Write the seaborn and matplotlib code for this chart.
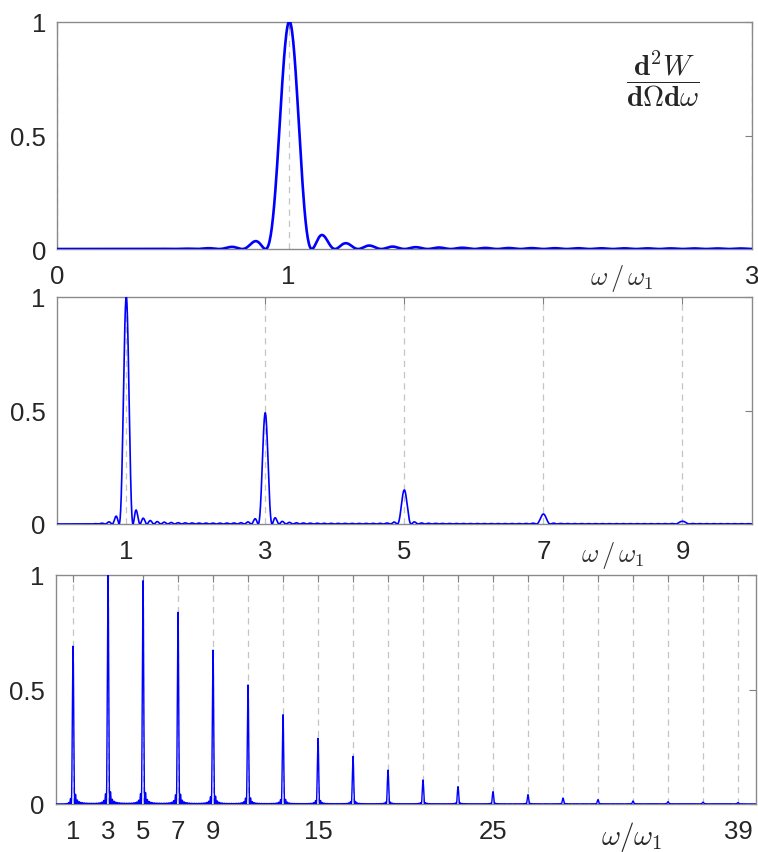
import numpy as np
import pandas as pd
import matplotlib
matplotlib.use("Agg")
import matplotlib.pyplot as plt
import seaborn as sns

# ---------------- data ----------------
top_harmonics = [1]
top_heights = [1.0]

mid_harmonics = [1, 3, 5, 7, 9]
mid_heights = [1.0, 0.49, 0.15, 0.044, 0.012]

bot_harmonics = list(range(1, 40, 2))
bot_heights = [0.687, 1.0, 0.975, 0.837, 0.672, 0.52, 0.39, 0.287, 0.208, 0.148,
               0.105, 0.076, 0.054, 0.041, 0.026, 0.019, 0.013, 0.010, 0.008, 0.006]

n_periods = 10  # line-shape parameter (zeros of each line at n +/- 1/N)

top_xticks = [0, 1, 3]
top_xticklabels = ["0", "1", "3"]
mid_xticks = [1, 3, 5, 7, 9]
mid_xticklabels = ["1", "3", "5", "7", "9"]
bot_xticks = list(range(1, 40, 2))
bot_xticklabels = [str(t) if t in (1, 3, 5, 7, 9, 15, 25, 39) else "" for t in bot_xticks]
yticks = [0, 0.5, 1]
yticklabels = ["0", "0.5", "1"]


def spectrum(w, harmonics, heights, N):
    y = np.zeros_like(w)
    for n, a in zip(harmonics, heights):
        y += a * np.sinc(N * (w - n)) ** 2 * (w / n) ** 2
    return y


sns.set_style("white")
plt.rcParams["font.family"] = ["Liberation Sans", "DejaVu Sans"]
plt.rcParams["mathtext.fontset"] = "cm"

fig = plt.figure(figsize=(7.58, 8.53), dpi=100)
W, H = 758.0, 853.0


def add_axes(l, r, t, b):
    return fig.add_axes([l / W, 1 - b / H, (r - l) / W, (b - t) / H])


ax1 = add_axes(57, 752, 23, 250)
ax2 = add_axes(56.5, 752, 298, 525)
ax3 = add_axes(55.5, 755.5, 576, 805)

panels = [
    (ax1, 3, top_harmonics, top_heights, top_xticks, top_xticklabels, 1.9),
    (ax2, 10, mid_harmonics, mid_heights, mid_xticks, mid_xticklabels, 1.2),
    (ax3, 40, bot_harmonics, bot_heights, bot_xticks, bot_xticklabels, 1.0),
]

for ax, xmax, harm, hts, xt, xtl, lw in panels:
    w = np.linspace(0, xmax, int(xmax * 400) + 1)
    y = spectrum(w, harm, hts, n_periods)
    df = pd.DataFrame({"w": w, "I": y})
    for xg in xt:
        ax.axvline(xg, color="#c4c4c4", lw=0.9, ls=(0, (5, 4)), zorder=0.5)
    sns.lineplot(data=df, x="w", y="I", ax=ax, color="#0000ff", lw=lw, zorder=3)
    ax.set_xlim(0, xmax)
    ax.set_ylim(0, 1)
    ax.set_xticks(xt)
    ax.set_xticklabels(xtl)
    ax.set_yticks(yticks)
    ax.set_yticklabels(yticklabels)
    ax.set_xlabel("")
    ax.set_ylabel("")
    ax.tick_params(axis="both", which="both", direction="in", length=5, width=0.8,
                   color="#808080", labelsize=18.5, labelcolor="#262626",
                   top=True, right=True)
    ax.tick_params(axis="x", pad=11)
    ax.tick_params(axis="y", pad=8)
    for s in ax.spines.values():
        s.set_color("#8a8a8a")
        s.set_linewidth(1.0)
        s.set_zorder(2)

ax1.text(0.872, 0.755,
         r"$\dfrac{\mathbf{d}^2W}{\mathbf{d}\Omega\mathbf{d}\omega}$",
         transform=ax1.transAxes, ha="center", va="center", fontsize=21)

fig.text(622 / W, 1 - 279 / H, r"$\omega\,/\,\omega_{\mathrm{1}}$",
         ha="center", va="center", fontsize=19, color="#333333")
fig.text(613 / W, 1 - 556 / H, r"$\omega\,/\,\omega_{\mathrm{1}}$",
         ha="center", va="center", fontsize=19, color="#333333")
fig.text(632 / W, 1 - 837 / H, r"$\omega/\omega_1$",
         ha="center", va="center", fontsize=21, color="#262626")

fig.savefig("out.png", dpi=100)
